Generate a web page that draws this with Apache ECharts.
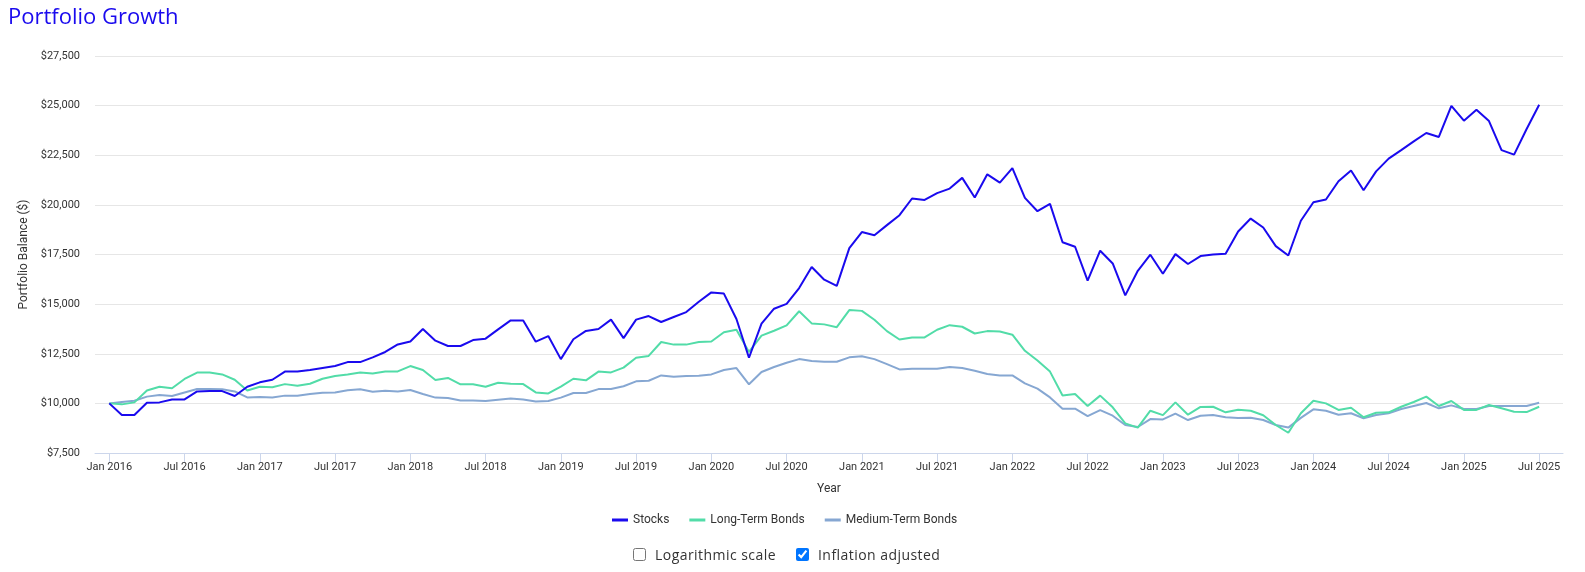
<!DOCTYPE html>
<html>
<head>
<meta charset="utf-8">
<script src="https://cdn.jsdelivr.net/npm/echarts@6/dist/echarts.min.js"></script>
<style>
  html, body { margin: 0; padding: 0; background: #fff; }
  #chart { position: absolute; left: 0; top: 0; width: 1585px; height: 572px; }
  #controls { position: absolute; top: 545px; left: 631px; display: flex; align-items: center;
    font-family: "Open Sans", sans-serif; font-size: 14px; color: #333; letter-spacing: 0.45px; }
  #controls label { display: flex; align-items: center; margin-right: 18px; }
  #controls input { width: 13px; height: 13px; margin: 0 9px 0 2px; }
</style>
</head>
<body>
<div id="chart"></div>
<div id="controls">
  <label><input type="checkbox">Logarithmic scale</label>
  <label><input type="checkbox" checked>Inflation adjusted</label>
</div>
<script>
const months = (function () {
  const names = ['Jan','Feb','Mar','Apr','May','Jun','Jul','Aug','Sep','Oct','Nov','Dec'];
  const out = [];
  for (let y = 2016; y <= 2025; y++) for (let m = 0; m < 12; m++) {
    if (y === 2025 && m > 6) break;
    out.push(names[m] + ' ' + y);
  }
  return out;
})();

const tickLabels = ['Jan 2016','Jul 2016','Jan 2017','Jul 2017','Jan 2018','Jul 2018','Jan 2019','Jul 2019',
  'Jan 2020','Jul 2020','Jan 2021','Jul 2021','Jan 2022','Jul 2022','Jan 2023','Jul 2023','Jan 2024','Jul 2024',
  'Jan 2025','Jul 2025'];

const stocks = [
  10000, 9410, 9410, 10030, 10050, 10200, 10200, 10600, 10620, 10620, 10370, 10840, 11060, 11190, 11600, 11600, 11680, 11780, 11880,
  12080, 12080, 12320, 12590, 12970, 13120, 13750, 13160, 12890, 12890, 13190, 13260, 13730, 14180, 14180, 13110, 13390, 12230,
  13230, 13650, 13750, 14220, 13290, 14220, 14400, 14100, 14350, 14600, 15120, 15590, 15530, 14250, 12300, 14020, 14770, 15010, 15810, 16870,
  16230, 15920, 17820, 18630, 18470, 18980, 19480, 20320, 20250, 20590, 20820, 21360, 20370, 21540, 21120, 21850, 20350, 19680, 20050,
  18120, 17890, 16180, 17690, 17050, 15440, 16680, 17490, 16530, 17520, 17020, 17420, 17500, 17540, 18660, 19310, 18860, 17920, 17450, 19200,
  20130, 20270, 21190, 21730, 20740, 21690, 22330, 22760, 23200, 23620, 23420, 24990, 24240, 24790, 24220, 22760, 22530, 23820, 25040
];

const longBonds = [
  10000, 9950, 10050, 10650, 10840, 10760, 11230, 11550, 11550, 11460, 11190, 10650, 10840, 10810, 10970, 10890, 10990, 11240, 11380,
  11460, 11550, 11510, 11600, 11610, 11880, 11680, 11180, 11280, 10960, 10960, 10840, 11040, 10990, 10970, 10550, 10500, 10840,
  11240, 11160, 11600, 11560, 11800, 12300, 12390, 13090, 12960, 12960, 13090, 13120, 13580, 13710, 12590, 13410, 13660, 13930, 14640, 14030,
  13980, 13840, 14700, 14660, 14210, 13640, 13220, 13320, 13320, 13710, 13940, 13860, 13520, 13640, 13620, 13460, 12650, 12160, 11600,
  10400, 10470, 9870, 10390, 9800, 8990, 8780, 9630, 9410, 10050, 9430, 9820, 9830, 9550, 9680, 9630, 9400, 8910, 8520, 9500,
  10130, 10000, 9670, 9780, 9300, 9530, 9550, 9830, 10070, 10340, 9870, 10120, 9670, 9670, 9920, 9750, 9580, 9560, 9830
];

const mediumBonds = [
  10000, 10070, 10130, 10340, 10420, 10370, 10550, 10720, 10720, 10710, 10600, 10300, 10320, 10300, 10390, 10390, 10470, 10540, 10550,
  10660, 10710, 10590, 10640, 10600, 10670, 10470, 10290, 10270, 10150, 10150, 10120, 10180, 10240, 10200, 10100, 10120, 10290,
  10520, 10520, 10720, 10720, 10860, 11110, 11140, 11410, 11340, 11380, 11390, 11460, 11680, 11780, 10960, 11580, 11830, 12050, 12230, 12130,
  12100, 12100, 12320, 12370, 12230, 11980, 11710, 11750, 11750, 11750, 11830, 11780, 11640, 11480, 11410, 11410, 11010, 10740, 10300,
  9730, 9730, 9360, 9660, 9380, 8910, 8810, 9210, 9190, 9480, 9160, 9380, 9410, 9300, 9260, 9280, 9160, 8910, 8780, 9270,
  9700, 9630, 9430, 9500, 9250, 9410, 9500, 9720, 9870, 10020, 9750, 9900, 9720, 9720, 9870, 9870, 9870, 9870, 10030
];

const seriesNames = ['Stocks', 'Long-Term Bonds', 'Medium-Term Bonds'];
const seriesColors = ['#1a0aee', '#52dca8', '#86a7d2'];
const seriesValues = [stocks, longBonds, mediumBonds];

const tickIdx = tickLabels.map(l => months.indexOf(l));
const labelFont = 'Roboto, sans-serif';

const chart = echarts.init(document.getElementById('chart'), null, { renderer: 'canvas' });
chart.setOption({
  animation: false,
  backgroundColor: '#ffffff',
  title: {
    text: 'Portfolio Growth', left: 3, top: 2,
    textStyle: { color: '#1a0aee', fontSize: 22, fontWeight: 500, fontFamily: '"Open Sans", sans-serif' }
  },
  legend: {
    data: seriesNames, bottom: 41, left: 607, itemGap: 20, itemWidth: 16, itemHeight: 3, icon: 'rect',
    textStyle: { color: '#333', fontSize: 12, fontFamily: labelFont }
  },
  grid: { left: 95, right: 22, top: 56, bottom: 119, containLabel: false },
  xAxis: {
    type: 'value', min: -1.14, max: 115.9,
    name: 'Year', nameLocation: 'middle', nameGap: 30,
    nameTextStyle: { color: '#333', fontSize: 12, fontFamily: labelFont },
    axisLine: { show: true, lineStyle: { color: '#ccd6eb', width: 1 } },
    axisTick: { show: true, length: 10, customValues: tickIdx, lineStyle: { color: '#ccd6eb' } },
    axisLabel: { customValues: tickIdx, margin: 9, color: '#333', fontSize: 11, fontFamily: labelFont,
      formatter: v => months[Math.round(v)] },
    splitLine: { show: false }
  },
  yAxis: {
    type: 'value', min: 7500, max: 27500, interval: 2500,
    name: 'Portfolio Balance ($)', nameLocation: 'middle', nameGap: 56,
    nameTextStyle: { color: '#333', fontSize: 12, fontFamily: labelFont },
    axisLine: { show: false }, axisTick: { show: false },
    axisLabel: { margin: 15, color: '#333', fontSize: 11, fontFamily: labelFont,
      formatter: v => '$' + v.toLocaleString('en-US') },
    splitLine: { lineStyle: { color: '#e6e6e6', width: 1 } }
  },
  series: seriesNames.map((n, k) => ({
    name: n, type: 'line', symbol: 'none', showSymbol: false,
    data: seriesValues[k].map((v, i) => [i, v]),
    lineStyle: { width: 2, color: seriesColors[k] },
    itemStyle: { color: seriesColors[k] },
    z: 10 - k
  }))
});
</script>
</body>
</html>
